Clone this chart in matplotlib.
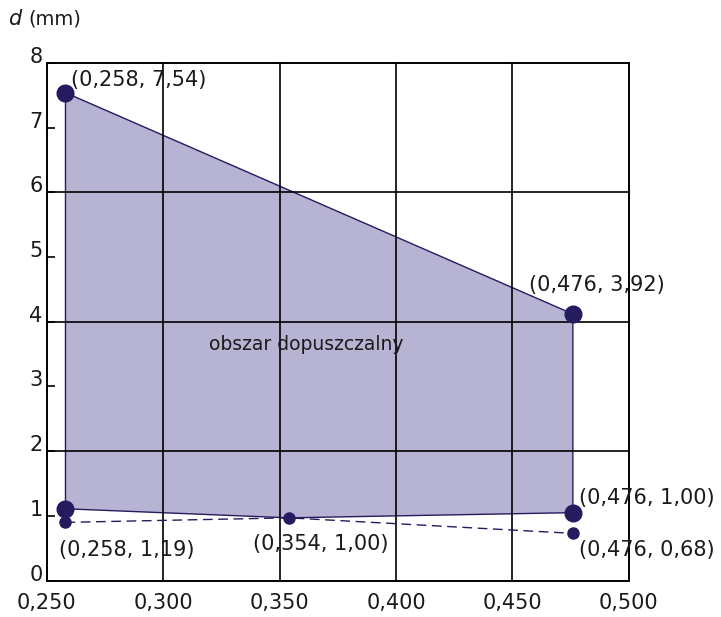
import matplotlib
matplotlib.use("Agg")
import matplotlib.pyplot as plt

plt.rcParams["font.family"] = ["DejaVu Sans"]

# vertices of the admissible region (positions as drawn)
region_x = [0.258, 0.476, 0.476, 0.354, 0.258]
region_y = [7.54, 4.12, 1.05, 0.97, 1.11]

# dashed lower constraint
dash_x = [0.258, 0.354, 0.476]
dash_y = [0.90, 0.97, 0.73]

# big dots (region corners)
big_x = [0.258, 0.476, 0.476, 0.258]
big_y = [7.54, 4.12, 1.05, 1.11]

# point labels and where they sit relative to their point (pixels)
labels = ["(0,258, 7,54)", "(0,476, 3,92)", "(0,476, 1,00)",
          "(0,476, 0,68)", "(0,258, 1,19)", "(0,354, 1,00)"]
label_x = [0.258, 0.476, 0.476, 0.476, 0.258, 0.354]
label_y = [7.54, 4.12, 1.05, 0.73, 0.90, 0.97]
label_off = [(6, 13), (-44, 29), (6, 15), (6, -17), (-6, -28), (-36, -26)]

x_ticks = [0.25, 0.30, 0.35, 0.40, 0.45, 0.50]
x_ticklabels = ["0,250", "0,300", "0,350", "0,400", "0,450", "0,500"]
y_ticks = [0, 1, 2, 3, 4, 5, 6, 7, 8]
grid_y = [2, 4, 6]

FILL = "#b7b3d3"
DARK = "#241c5e"
TXT = "#1a1a1a"

fig = plt.figure(figsize=(7.21, 6.17), dpi=100)
ax = fig.add_axes([0.065, 0.059, 0.807, 0.839])

ax.set_xlim(0.25, 0.50)
ax.set_ylim(0, 8)

ax.fill(region_x, region_y, facecolor=FILL, edgecolor=DARK, linewidth=1.0, zorder=1)

for gx in x_ticks[1:-1]:
    ax.axvline(gx, color="black", linewidth=1.2, zorder=2)
for gy in grid_y:
    ax.axhline(gy, color="black", linewidth=1.2, zorder=2)

ax.plot(dash_x, dash_y, color=DARK, linewidth=1.0, linestyle=(0, (7, 4)),
        marker="o", markersize=8, zorder=4)
ax.plot(big_x, big_y, linestyle="none", marker="o", markersize=12,
        color=DARK, zorder=5)

for txt, lx, ly, off in zip(labels, label_x, label_y, label_off):
    ax.annotate(txt, (lx, ly), xytext=off, textcoords="offset pixels",
                ha="left", va="center", fontsize=15, color=TXT, zorder=6)

ax.text(0.3195, 3.65, "obszar dopuszczalny", ha="left", va="center",
        fontsize=13.5, color=TXT, zorder=6)

ax.set_xticks(x_ticks)
ax.set_xticklabels(x_ticklabels)
ax.set_yticks(y_ticks)
ax.tick_params(axis="x", length=0, pad=9, labelsize=15, labelcolor=TXT)
ax.tick_params(axis="y", direction="in", length=6, width=1.2, pad=3,
               labelsize=15, labelcolor=TXT)
for lab in ax.get_yticklabels():
    lab.set_verticalalignment("baseline")

for sp in ax.spines.values():
    sp.set_linewidth(1.4)
    sp.set_zorder(3)

fig.text(0.011, 0.970, "$d$", fontsize=15, ha="left", va="center", color=TXT)
fig.text(0.039, 0.970, "(mm)", fontsize=14, ha="left", va="center", color=TXT)

fig.savefig("out.png", dpi=100)
